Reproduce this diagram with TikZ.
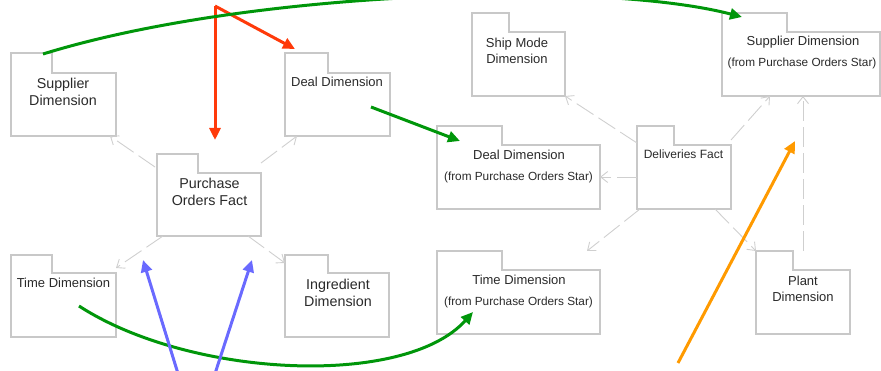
\documentclass[tikz,border=0pt]{standalone}
\usepackage{fontspec}
\setmainfont{Liberation Sans}
\usetikzlibrary{arrows.meta,calc}
\definecolor{boxgray}{HTML}{C8C8C8}
\definecolor{depgray}{HTML}{CFCFCF}
\definecolor{txtgray}{HTML}{2A2A2A}
\definecolor{annred}{HTML}{FF3A0A}
\definecolor{anngreen}{HTML}{00960A}
\definecolor{annblue}{HTML}{6A6AFF}
\definecolor{annorange}{HTML}{FF9A00}
\newcommand\pkgshape[7]{%
  \node[inner sep=0pt,outer sep=0pt,minimum width={(#6-#2)*1pt},minimum height={(#7-#3)*1pt},anchor=north west] (#1) at (#2,#3) {};
  \draw[pkgline] (#2,#7) -- (#2,#3) -- (#4,#3) -- (#4,#5) -- (#6,#5) -- (#6,#7) -- cycle;}
\tikzset{
  pkgline/.style={draw=boxgray,line width=1.1pt,fill=white},
  lbl/.style={inner sep=0pt,align=center,text=txtgray,font=\fontsize{13}{16}\selectfont},
  lblbig/.style={lbl,font=\fontsize{14.3}{17}\selectfont},
  sublbl/.style={inner sep=0pt,text=txtgray,font=\fontsize{11.8}{14}\selectfont},
  dep/.style={draw=depgray,line width=0.9pt,dash pattern=on 20pt off 6pt,-{Straight Barb[length=7pt,width=11pt]}},
  ann/.style={line width=3pt,-{Triangle[length=12pt,width=11pt]}},
}
\begin{document}
\begin{tikzpicture}[x=1pt,y=-1pt]
\useasboundingbox (0,0) rectangle (881,371);
\clip (0,0) rectangle (881,371);
% packages: name, x1, ytab, x2, ybody, xR, ybot
\pkgshape{supL}{11}{53}{52}{73}{116}{136}
\pkgshape{dealL}{285}{53}{328}{73}{390}{136}
\pkgshape{pof}{157}{154}{198}{173}{261}{236}
\pkgshape{timeL}{11}{255}{52}{273}{116}{337}
\pkgshape{ingr}{285}{255}{328}{273}{389}{337}
\pkgshape{ship}{472}{13}{509}{32}{565}{96}
\pkgshape{supR}{722}{13}{787}{32}{880}{96}
\pkgshape{dealR}{437}{126}{502}{145}{600}{209}
\pkgshape{del}{637}{126}{674}{145}{731}{209}
\pkgshape{timeR}{437}{251}{502}{270}{600}{334}
\pkgshape{plant}{756}{251}{793}{270}{850}{334}
% labels
\node[lblbig] (supLt) at (63,91.5) {Supplier\\Dimension};
\node[lbl] (dealLt) at (337,82) {Deal Dimension};
\node[lblbig] (poft) at (209.5,191.5) {Purchase\\Orders Fact};
\node[lbl] (timeLt) at (63.5,283) {Time Dimension};
\node[lblbig] (ingrt) at (338,292.5) {Ingredient\\Dimension};
\node[lbl] (shipt) at (517,51) {Ship Mode\\Dimension};
\node[lbl] (supRt) at (803,42) {Supplier Dimension};
\node[sublbl] (supRs) at (802,63) {(from Purchase Orders Star)};
\node[lbl] (dealRt) at (519,155) {Deal Dimension};
\node[sublbl] (dealRs) at (518.5,177) {(from Purchase Orders Star)};
\node[lbl,font=\fontsize{12}{14}\selectfont] (delt) at (683.5,154) {Deliveries Fact};
\node[lbl] (timeRt) at (519,280) {Time Dimension};
\node[sublbl] (timeRs) at (518.5,302) {(from Purchase Orders Star)};
\node[lbl] (plantt) at (803,289) {Plant\\Dimension};
% dependencies
\draw[dep] ($(pof.north west)+(-2,13)$) -- ($(supL.south east)+(-6,0)$);
\draw[dep] ($(pof.north east)+(0,9)$) -- ($(dealL.south west)+(12,0)$);
\draw[dep] ($(pof.south west)+(6,0)$) -- ($(timeL.north east)+(0,13)$);
\draw[dep] ($(pof.south east)+(-13,0)$) -- ($(ingr.north west)+(0,8)$);
\draw[dep] ($(del.north west)+(0,17)$) -- (ship.south east);
\draw[dep] ($(del.north east)+(0,14)$) -- ($(supR.south west)+(48,0)$);
\draw[dep] (del.west |- dealRs) -- (dealR.east |- dealRs);
\draw[dep] ($(del.south west)+(3,0)$) -- ($(timeR.north east)+(-13,0)$);
\draw[dep] ($(del.south west)+(78,0)$) -- (plant.north west);
\draw[dep] (plant.north) -- (plant.north |- supR.south);
% annotation arrows
\coordinate (redapex) at (215,6);
\coordinate (blueorigin) at (196,432);
\coordinate (orangestart) at (678,363);
\draw[ann,annred] (redapex) -- ($(pof.north west)+(58,-14)$);
\draw[ann,annred] (redapex) -- ($(dealL.north west)+(10,-4)$);
\draw[ann,anngreen] ($(supL.north west)+(32,1)$) .. controls (250,-10) and (600,-20) .. ($(supR.north west)+(20,4)$);
\draw[ann,anngreen] ($(dealL.south west)+(86,-29)$) -- ($(dealR.north west)+(23,15)$);
\draw[ann,anngreen] ($(timeL.south west)+(68,-31)$) .. controls (190,378) and (405,388) .. ($(timeR.north west)+(36,61)$);
\draw[ann,annblue] (blueorigin) -- ($(pof.south west)+(-14,24)$);
\draw[ann,annblue] (blueorigin) -- ($(pof.south east)+(-9,24)$);
\draw[ann,annorange] (orangestart) -- ($(supR.south west)+(73,45)$);
\end{tikzpicture}
\end{document}
